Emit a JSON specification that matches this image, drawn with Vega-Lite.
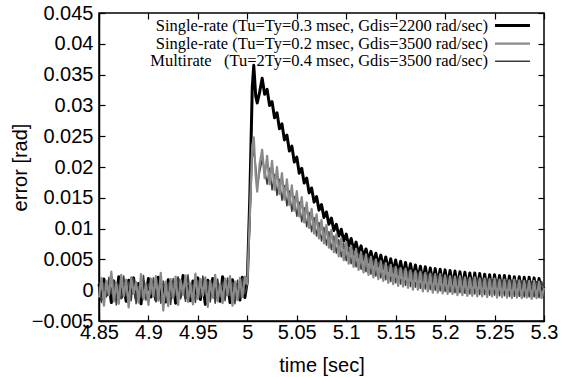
{
"$schema": "https://vega.github.io/schema/vega-lite/v6.json",
"width": 445,
"height": 308,
"padding": {"left": 10, "top": 3, "right": 10, "bottom": 5},
"background": "white",
"config": {
 "view": {"stroke": "#000", "strokeWidth": 1.5},
 "axis": {"labelFont": "Liberation Sans", "titleFont": "Liberation Sans", "labelFontSize": 20, "titleFontSize": 20, "titleFontWeight": "normal", "labelColor": "#000", "titleColor": "#000", "grid": false, "domainColor": "#000", "tickColor": "#000", "domainWidth": 1.5, "tickWidth": 1.2, "labelOverlap": false, "labelFlush": false}
},
"data": {"values": [
{"t":4.85,"a":0.0010,"b":-0.0012,"c":0.0005},
{"t":4.8525,"a":-0.0015,"b":0.0020,"c":-0.0020},
{"t":4.855,"a":0.0018,"b":-0.0025,"c":0.0012},
{"t":4.8575,"a":-0.0008,"b":0.0015,"c":-0.0011},
{"t":4.86,"a":0.0012,"b":-0.0008,"c":0.0021},
{"t":4.8625,"a":-0.0020,"b":0.0030,"c":-0.0006},
{"t":4.865,"a":0.0015,"b":-0.0018,"c":0.0016},
{"t":4.8675,"a":-0.0010,"b":0.0012,"c":-0.0024},
{"t":4.87,"a":0.0022,"b":-0.0022,"c":0.0009},
{"t":4.8725,"a":-0.0012,"b":0.0025,"c":-0.0014},
{"t":4.875,"a":0.0008,"b":-0.0010,"c":0.0023},
{"t":4.8775,"a":-0.0018,"b":0.0017,"c":-0.0009},
{"t":4.88,"a":0.0016,"b":-0.0028,"c":0.0013},
{"t":4.8825,"a":-0.0005,"b":0.0021,"c":-0.0017},
{"t":4.885,"a":0.0020,"b":-0.0006,"c":0.0019},
{"t":4.8875,"a":-0.0014,"b":0.0013,"c":-0.0022},
{"t":4.89,"a":0.0011,"b":-0.0020,"c":0.0006},
{"t":4.8925,"a":-0.0022,"b":0.0026,"c":-0.0012},
{"t":4.895,"a":0.0014,"b":-0.0015,"c":0.0024},
{"t":4.8975,"a":-0.0009,"b":0.0009,"c":-0.0016},
{"t":4.9,"a":0.0019,"b":-0.0024,"c":0.0011},
{"t":4.9025,"a":-0.0011,"b":0.0019,"c":-0.0007},
{"t":4.905,"a":0.0006,"b":-0.0011,"c":0.0020},
{"t":4.9075,"a":-0.0016,"b":0.0023,"c":-0.0019},
{"t":4.91,"a":0.0021,"b":-0.0017,"c":0.0008},
{"t":4.9125,"a":-0.0013,"b":0.0028,"c":-0.0021},
{"t":4.915,"a":0.0009,"b":-0.0033,"c":0.0015},
{"t":4.9175,"a":-0.0019,"b":0.0014,"c":-0.0010},
{"t":4.92,"a":0.0017,"b":-0.0026,"c":0.0012},
{"t":4.9225,"a":-0.0007,"b":0.0018,"c":-0.0023},
{"t":4.925,"a":0.0013,"b":-0.0013,"c":0.0019},
{"t":4.9275,"a":-0.0021,"b":0.0022,"c":-0.0008},
{"t":4.93,"a":0.0018,"b":-0.0024,"c":0.0022},
{"t":4.9325,"a":-0.0010,"b":0.0016,"c":-0.0014},
{"t":4.935,"a":0.0024,"b":-0.0007,"c":0.0010},
{"t":4.9375,"a":-0.0012,"b":0.0024,"c":-0.0018},
{"t":4.94,"a":0.0007,"b":-0.0019,"c":0.0025},
{"t":4.9425,"a":-0.0017,"b":0.0011,"c":-0.0011},
{"t":4.945,"a":0.0015,"b":-0.0023,"c":0.0009},
{"t":4.9475,"a":-0.0006,"b":0.0027,"c":-0.0020},
{"t":4.95,"a":0.0020,"b":-0.0014,"c":0.0016},
{"t":4.9525,"a":-0.0015,"b":0.0018,"c":-0.0012},
{"t":4.955,"a":0.0012,"b":-0.0009,"c":0.0023},
{"t":4.9575,"a":-0.0023,"b":0.0021,"c":-0.0007},
{"t":4.96,"a":0.0016,"b":-0.0027,"c":0.0014},
{"t":4.9625,"a":-0.0009,"b":0.0015,"c":-0.0019},
{"t":4.965,"a":0.0019,"b":-0.0012,"c":0.0011},
{"t":4.9675,"a":-0.0013,"b":0.0025,"c":-0.0021},
{"t":4.97,"a":0.0010,"b":-0.0018,"c":0.0018},
{"t":4.9725,"a":-0.0018,"b":0.0010,"c":-0.0010},
{"t":4.975,"a":0.0022,"b":-0.0021,"c":0.0013},
{"t":4.9775,"a":-0.0008,"b":0.0019,"c":-0.0017},
{"t":4.98,"a":0.0014,"b":-0.0008,"c":0.0020},
{"t":4.9825,"a":-0.0020,"b":0.0023,"c":-0.0009},
{"t":4.985,"a":0.0017,"b":-0.0025,"c":0.0012},
{"t":4.9875,"a":-0.0011,"b":0.0014,"c":-0.0022},
{"t":4.99,"a":0.0009,"b":-0.0016,"c":0.0016},
{"t":4.9925,"a":-0.0016,"b":0.0020,"c":-0.0013},
{"t":4.995,"a":0.0021,"b":-0.0011,"c":0.0019},
{"t":4.9975,"a":-0.0012,"b":0.0022,"c":-0.0006},
{"t":5.0,"a":0.0015,"b":0.0010,"c":0.0008},
{"t":5.0025,"a":0.0150,"b":0.0120,"c":0.0110},
{"t":5.005,"a":0.0330,"b":0.0235,"c":0.0215},
{"t":5.0065,"a":0.0365,"b":0.0248,"c":0.0228},
{"t":5.0085,"a":0.0315,"b":0.0185,"c":0.0200},
{"t":5.01,"a":0.0304,"b":0.0160,"c":0.0170},
{"t":5.0125,"a":0.0322,"b":0.0205,"c":0.0192},
{"t":5.015,"a":0.0344,"b":0.0228,"c":0.0212},
{"t":5.0175,"a":0.0318,"b":0.0182,"c":0.0196},
{"t":5.02,"a":0.0326,"b":0.0218,"c":0.0172},
{"t":5.0225,"a":0.0300,"b":0.0172,"c":0.0198},
{"t":5.025,"a":0.0306,"b":0.0210,"c":0.0163},
{"t":5.0275,"a":0.0280,"b":0.0163,"c":0.0188},
{"t":5.03,"a":0.0288,"b":0.0200,"c":0.0154},
{"t":5.0325,"a":0.0262,"b":0.0156,"c":0.0180},
{"t":5.035,"a":0.0270,"b":0.0190,"c":0.0146},
{"t":5.0375,"a":0.0244,"b":0.0147,"c":0.0170},
{"t":5.04,"a":0.0252,"b":0.0180,"c":0.0137},
{"t":5.0425,"a":0.0226,"b":0.0138,"c":0.0161},
{"t":5.045,"a":0.0234,"b":0.0170,"c":0.0128},
{"t":5.0475,"a":0.0208,"b":0.0129,"c":0.0152},
{"t":5.05,"a":0.0216,"b":0.0161,"c":0.0120},
{"t":5.0525,"a":0.0190,"b":0.0120,"c":0.0143},
{"t":5.055,"a":0.0198,"b":0.0151,"c":0.0111},
{"t":5.0575,"a":0.0174,"b":0.0110,"c":0.0134},
{"t":5.06,"a":0.0182,"b":0.0142,"c":0.0103},
{"t":5.0625,"a":0.0158,"b":0.0101,"c":0.0126},
{"t":5.065,"a":0.0166,"b":0.0132,"c":0.0095},
{"t":5.0675,"a":0.0143,"b":0.0092,"c":0.0118},
{"t":5.07,"a":0.0152,"b":0.0123,"c":0.0088},
{"t":5.0725,"a":0.0130,"b":0.0084,"c":0.0110},
{"t":5.075,"a":0.0139,"b":0.0114,"c":0.0080},
{"t":5.0775,"a":0.0118,"b":0.0076,"c":0.0102},
{"t":5.08,"a":0.0127,"b":0.0106,"c":0.0073},
{"t":5.0825,"a":0.0107,"b":0.0069,"c":0.0095},
{"t":5.085,"a":0.0117,"b":0.0098,"c":0.0066},
{"t":5.0875,"a":0.0097,"b":0.0062,"c":0.0088},
{"t":5.09,"a":0.0107,"b":0.0091,"c":0.0060},
{"t":5.0925,"a":0.0088,"b":0.0055,"c":0.0082},
{"t":5.095,"a":0.0099,"b":0.0084,"c":0.0054},
{"t":5.0975,"a":0.0080,"b":0.0049,"c":0.0076},
{"t":5.1,"a":0.0091,"b":0.0078,"c":0.0048},
{"t":5.1025,"a":0.0072,"b":0.0043,"c":0.0070},
{"t":5.105,"a":0.0084,"b":0.0072,"c":0.0043},
{"t":5.1075,"a":0.0065,"b":0.0038,"c":0.0065},
{"t":5.11,"a":0.0078,"b":0.0067,"c":0.0038},
{"t":5.1125,"a":0.0059,"b":0.0033,"c":0.0060},
{"t":5.115,"a":0.0072,"b":0.0062,"c":0.0034},
{"t":5.1175,"a":0.0053,"b":0.0029,"c":0.0056},
{"t":5.12,"a":0.0067,"b":0.0058,"c":0.0030},
{"t":5.1225,"a":0.0048,"b":0.0025,"c":0.0052},
{"t":5.125,"a":0.0063,"b":0.0054,"c":0.0026},
{"t":5.1275,"a":0.0044,"b":0.0021,"c":0.0048},
{"t":5.13,"a":0.0060,"b":0.0050,"c":0.0023},
{"t":5.1325,"a":0.0040,"b":0.0018,"c":0.0045},
{"t":5.135,"a":0.0057,"b":0.0047,"c":0.0020},
{"t":5.1375,"a":0.0036,"b":0.0015,"c":0.0042},
{"t":5.14,"a":0.0054,"b":0.0044,"c":0.0017},
{"t":5.1425,"a":0.0032,"b":0.0012,"c":0.0039},
{"t":5.145,"a":0.0051,"b":0.0041,"c":0.0014},
{"t":5.1475,"a":0.0029,"b":0.0010,"c":0.0037},
{"t":5.15,"a":0.0049,"b":0.0038,"c":0.0012},
{"t":5.1525,"a":0.0026,"b":0.0007,"c":0.0035},
{"t":5.155,"a":0.0047,"b":0.0036,"c":0.0010},
{"t":5.1575,"a":0.0024,"b":0.0006,"c":0.0033},
{"t":5.16,"a":0.0045,"b":0.0035,"c":0.0008},
{"t":5.1625,"a":0.0021,"b":0.0004,"c":0.0031},
{"t":5.165,"a":0.0043,"b":0.0032,"c":0.0006},
{"t":5.1675,"a":0.0019,"b":0.0001,"c":0.0029},
{"t":5.17,"a":0.0041,"b":0.0031,"c":0.0005},
{"t":5.1725,"a":0.0017,"b":0.0001,"c":0.0028},
{"t":5.175,"a":0.0039,"b":0.0030,"c":0.0003},
{"t":5.1775,"a":0.0015,"b":-0.0002,"c":0.0027},
{"t":5.18,"a":0.0038,"b":0.0028,"c":0.0002},
{"t":5.1825,"a":0.0013,"b":-0.0002,"c":0.0026},
{"t":5.185,"a":0.0036,"b":0.0027,"c":0.0001},
{"t":5.1875,"a":0.0012,"b":-0.0004,"c":0.0025},
{"t":5.19,"a":0.0035,"b":0.0026,"c":0.0000},
{"t":5.1925,"a":0.0010,"b":-0.0004,"c":0.0024},
{"t":5.195,"a":0.0034,"b":0.0026,"c":-0.0001},
{"t":5.1975,"a":0.0009,"b":-0.0005,"c":0.0023},
{"t":5.2,"a":0.0033,"b":0.0024,"c":-0.0002},
{"t":5.2025,"a":0.0007,"b":-0.0006,"c":0.0022},
{"t":5.205,"a":0.0032,"b":0.0023,"c":-0.0003},
{"t":5.2075,"a":0.0006,"b":-0.0006,"c":0.0022},
{"t":5.21,"a":0.0031,"b":0.0022,"c":-0.0004},
{"t":5.2125,"a":0.0004,"b":-0.0008,"c":0.0021},
{"t":5.215,"a":0.0030,"b":0.0023,"c":-0.0004},
{"t":5.2175,"a":0.0004,"b":-0.0008,"c":0.0020},
{"t":5.22,"a":0.0029,"b":0.0021,"c":-0.0005},
{"t":5.2225,"a":0.0002,"b":-0.0009,"c":0.0020},
{"t":5.225,"a":0.0028,"b":0.0020,"c":-0.0006},
{"t":5.2275,"a":0.0001,"b":-0.0009,"c":0.0019},
{"t":5.23,"a":0.0028,"b":0.0021,"c":-0.0006},
{"t":5.2325,"a":0.0000,"b":-0.0010,"c":0.0019},
{"t":5.235,"a":0.0027,"b":0.0019,"c":-0.0007},
{"t":5.2375,"a":-0.0001,"b":-0.0010,"c":0.0018},
{"t":5.24,"a":0.0026,"b":0.0019,"c":-0.0007},
{"t":5.2425,"a":-0.0003,"b":-0.0011,"c":0.0018},
{"t":5.245,"a":0.0025,"b":0.0018,"c":-0.0008},
{"t":5.2475,"a":-0.0003,"b":-0.0010,"c":0.0017},
{"t":5.25,"a":0.0025,"b":0.0019,"c":-0.0008},
{"t":5.2525,"a":-0.0004,"b":-0.0012,"c":0.0017},
{"t":5.255,"a":0.0024,"b":0.0017,"c":-0.0009},
{"t":5.2575,"a":-0.0004,"b":-0.0011,"c":0.0016},
{"t":5.26,"a":0.0024,"b":0.0017,"c":-0.0009},
{"t":5.2625,"a":-0.0005,"b":-0.0012,"c":0.0016},
{"t":5.265,"a":0.0023,"b":0.0016,"c":-0.0010},
{"t":5.2675,"a":-0.0006,"b":-0.0013,"c":0.0016},
{"t":5.27,"a":0.0022,"b":0.0017,"c":-0.0010},
{"t":5.2725,"a":-0.0006,"b":-0.0012,"c":0.0015},
{"t":5.275,"a":0.0022,"b":0.0016,"c":-0.0010},
{"t":5.2775,"a":-0.0008,"b":-0.0013,"c":0.0015},
{"t":5.28,"a":0.0021,"b":0.0015,"c":-0.0011},
{"t":5.2825,"a":-0.0007,"b":-0.0012,"c":0.0015},
{"t":5.285,"a":0.0021,"b":0.0015,"c":-0.0011},
{"t":5.2875,"a":-0.0008,"b":-0.0014,"c":0.0014},
{"t":5.29,"a":0.0020,"b":0.0015,"c":-0.0011},
{"t":5.2925,"a":-0.0008,"b":-0.0013,"c":0.0014},
{"t":5.295,"a":0.0019,"b":0.0014,"c":-0.0012},
{"t":5.2975,"a":-0.0007,"b":-0.0013,"c":0.0014},
{"t":5.3,"a":0.0005,"b":0.0004,"c":0.0002}
]},
"transform": [{"fold": ["a", "c", "b"], "as": ["k", "e"]}],
"layer": [
 {
  "mark": {"type": "line", "strokeJoin": "round"},
  "encoding": {
   "x": {"field": "t", "type": "quantitative", "scale": {"domain": [4.85, 5.3], "nice": false, "zero": false},
     "axis": {"values": [4.85, 4.9, 4.95, 5, 5.05, 5.1, 5.15, 5.2, 5.25, 5.3], "format": "~g", "title": "time [sec]", "tickSize": -6, "labelPadding": 7, "titlePadding": 13}},
   "y": {"field": "e", "type": "quantitative", "scale": {"domain": [-0.005, 0.045], "nice": false, "zero": false},
     "axis": {"values": [-0.005, 0, 0.005, 0.01, 0.015, 0.02, 0.025, 0.03, 0.035, 0.04, 0.045], "format": "~g", "title": "error [rad]", "tickSize": -6, "labelPadding": 12, "titlePadding": 1}},
   "color": {"field": "k", "type": "nominal", "scale": {"domain": ["a", "b", "c"], "range": ["#000000", "#8a8a8a", "#3c3c3c"]},
     "legend": {"title": null, "orient": "none", "legendX": 405, "legendY": 4, "padding": 0, "labelFont": "Liberation Serif", "labelFontSize": 16.5, "labelColor": "#000", "labelLimit": 600, "symbolType": "M-2.5,0L2.5,0", "symbolSize": 196, "rowPadding": 1, "labelAlign": "right", "labelOffset": -33,
       "labelExpr": "datum.label == 'a' ? 'Single-rate (Tu=Ty=0.3 msec, Gdis=2200 rad/sec)' : datum.label == 'b' ? 'Single-rate (Tu=Ty=0.2 msec, Gdis=3500 rad/sec)' : 'Multirate\u00a0\u00a0\u00a0(Tu=2Ty=0.4 msec, Gdis=3500 rad/sec)'"}},
   "strokeWidth": {"field": "k", "type": "nominal", "scale": {"domain": ["a", "b", "c"], "range": [3, 1.5, 1.5]},
     "legend": {"title": null, "orient": "none", "legendX": 405, "legendY": 4, "padding": 0, "labelFont": "Liberation Serif", "labelFontSize": 16.5, "labelColor": "#000", "labelLimit": 600, "symbolType": "M-2.5,0L2.5,0", "symbolSize": 196, "rowPadding": 1, "labelAlign": "right", "labelOffset": -33,
       "labelExpr": "datum.label == 'a' ? 'Single-rate (Tu=Ty=0.3 msec, Gdis=2200 rad/sec)' : datum.label == 'b' ? 'Single-rate (Tu=Ty=0.2 msec, Gdis=3500 rad/sec)' : 'Multirate\u00a0\u00a0\u00a0(Tu=2Ty=0.4 msec, Gdis=3500 rad/sec)'"}}
  }
 },
 {
  "mark": {"type": "point", "opacity": 0},
  "encoding": {
   "x": {"field": "t", "type": "quantitative", "scale": {"domain": [4.85, 5.3], "nice": false, "zero": false},
     "axis": {"orient": "top", "values": [4.85, 4.9, 4.95, 5, 5.05, 5.1, 5.15, 5.2, 5.25, 5.3], "labels": false, "title": null, "tickSize": -6, "domain": false}},
   "y": {"field": "e", "type": "quantitative", "scale": {"domain": [-0.005, 0.045], "nice": false, "zero": false},
     "axis": {"orient": "right", "values": [-0.005, 0, 0.005, 0.01, 0.015, 0.02, 0.025, 0.03, 0.035, 0.04, 0.045], "labels": false, "title": null, "tickSize": -6, "domain": false}}
  }
 }
],
"resolve": {"axis": {"x": "independent", "y": "independent"}}
}
